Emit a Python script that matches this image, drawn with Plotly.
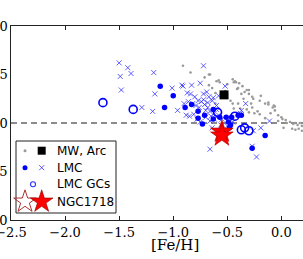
import plotly.graph_objects as go

# ---- data ----
mw_feh = [-0.91, -0.84, -0.66, -0.60, -0.57, -0.45, -0.43, -0.39, -0.36, -0.32, -0.30, -0.27,
          -0.20, -0.15, -0.12, -0.08, -0.06, -0.03, 0.01, 0.04, 0.08, 0.11, 0.15, 0.19,
          -0.42, -0.40, -0.37, -0.30, -0.26, -0.19, -0.45, -0.38, -0.32, -0.28, -0.12, -0.06,
          -0.27, -0.22, -0.07, 0.00, -0.03, 0.05, 0.13, 0.17, 0.10, 0.13, 0.16, 0.19, -0.15,
          -0.20, -0.71, -0.67, -0.64, -0.61, -0.58, -0.44, -0.41, -0.47, -0.40, -0.44, -0.30,
          -0.61, -0.67, -0.35, -0.25, -0.10, 0.02, -0.52, -0.50, -0.34]
mw_x = [0.59, 0.52, 0.50, 0.43, 0.42, 0.45, 0.43, 0.41, 0.38, 0.34, 0.34, 0.27,
        0.23, 0.20, 0.19, 0.16, 0.13, 0.08, 0.04, 0.03, 0.01, -0.01, -0.02, -0.03,
        0.42, 0.36, 0.30, 0.30, 0.25, 0.28, 0.20, 0.15, 0.14, 0.20, 0.21, 0.17,
        0.16, 0.12, 0.18, 0.06, 0.02, 0.00, 0.00, 0.00, -0.06, -0.07, -0.06, -0.08, 0.05,
        0.09, 0.47, 0.50, 0.36, 0.31, 0.44, 0.42, 0.35, 0.23, 0.20, 0.15, 0.11,
        0.20, 0.39, 0.25, 0.10, 0.10, -0.05, 0.33, 0.40, 0.32]

mw_arc_feh = [-0.53]
mw_arc_x = [0.29]

lmc_dot_feh = [-1.12, -1.00, -1.08, -0.89, -0.83, -0.77, -0.77, -0.71, -0.73, -0.63, -0.57,
               -0.51, -0.46, -0.49, -0.47, -0.40, -0.37, -0.63, -0.15, -0.27, -0.48]
lmc_dot_x = [0.38, 0.28, 0.16, 0.16, 0.19, 0.12, 0.05, 0.08, -0.01, 0.14, 0.06,
             0.06, 0.06, 0.01, -0.02, 0.08, 0.08, 0.04, -0.13, -0.26, -0.05]

lmc_x_feh = [-1.50, -1.42, -1.49, -1.39, -1.48, -1.18, -1.17, -1.29, -1.19, -1.01, -0.72,
             -0.91, -0.83, -0.75, -0.72, -0.52, -0.87, -0.84, -0.80, -0.67, -0.33, -0.88,
             -0.38, -0.11, -0.19, -0.64, -0.92, -0.69, -0.64, -0.58, -0.86, -0.82, -0.79,
             -0.76, -0.74, -0.71, -0.68, -0.66, -0.62, -0.60, -0.58, -0.55, -0.85, -0.81,
             -0.78, -0.75, -0.70, -0.66, -0.62, -0.56, -0.50, -0.45, -0.90, -0.96, -0.66,
             -0.27, -0.23, -0.26, -0.37, -0.63, -0.72, -0.68, -0.70, -0.77, -0.60, -0.65]
lmc_x_x = [0.62, 0.57, 0.48, 0.51, 0.34, 0.52, 0.30, 0.16, 0.12, 0.36, 0.59,
           0.38, 0.39, 0.41, 0.30, 0.38, 0.31, 0.30, 0.27, 0.27, 0.20, 0.08,
           0.10, 0.02, -0.05, -0.05, 0.39, 0.32, 0.23, 0.28, 0.22, 0.20, 0.18,
           0.16, 0.22, 0.19, 0.16, 0.12, 0.10, 0.18, 0.08, 0.04, 0.07, 0.09,
           0.04, 0.01, 0.06, 0.02, 0.04, -0.02, -0.03, 0.01, 0.20, 0.13, -0.27,
           -0.24, -0.35, -0.08, 0.13, 0.26, 0.24, 0.21, 0.13, 0.23, 0.14, 0.07]

gc_feh = [-1.65, -1.37, -0.59, -0.43, -0.37, -0.34, -0.30]
gc_x = [0.21, 0.14, 0.11, 0.07, -0.07, -0.05, -0.08]

ngc_feh = [-0.55, -0.55]
ngc_x = [-0.09, -0.13]

legend_labels = ["MW, Arc", "LMC", "LMC GCs", "NGC1718"]

x_range = [-2.5, 0.2]
y_range = [-1.0, 1.0]
x_ticks = [-2.5, -2.0, -1.5, -1.0, -0.5, 0.0]
y_ticks = [-1.0, -0.5, 0.0, 0.5, 1.0]


def fmt(v):
    return ("\u2212" if v < 0 else "") + f"{abs(v):.1f}"


fig = go.Figure()

fig.add_trace(go.Scatter(x=mw_feh, y=mw_x, mode="markers",
                         marker=dict(size=2.6, color="#9a9a9a"), showlegend=False))
fig.add_trace(go.Scatter(x=lmc_x_feh, y=lmc_x_x, mode="markers",
                         marker=dict(symbol="x-thin-open", size=5, color="rgba(40,40,255,0.75)",
                                     line=dict(width=1, color="rgba(40,40,255,0.75)")),
                         showlegend=False))
fig.add_trace(go.Scatter(x=lmc_dot_feh, y=lmc_dot_x, mode="markers",
                         marker=dict(size=5.5, color="#0000ff"), showlegend=False))
fig.add_trace(go.Scatter(x=gc_feh, y=gc_x, mode="markers",
                         marker=dict(symbol="circle-open", size=8, color="#0000ff",
                                     line=dict(width=1.6, color="#0000ff")),
                         showlegend=False))
fig.add_trace(go.Scatter(x=mw_arc_feh, y=mw_arc_x, mode="markers",
                         marker=dict(symbol="square", size=9, color="black"), showlegend=False))
fig.add_trace(go.Scatter(x=ngc_feh, y=ngc_x, mode="markers",
                         marker=dict(symbol="star", size=17, color="#ff0000",
                                     line=dict(width=0.6, color="#aa0000")),
                         showlegend=False))

# ---- manual legend (two symbols per entry) on an overlay paper-like axis ----
W, H = 303, 259
ml, mr, mt, mb = 11, 0, 26, 39
pw, ph = W - ml - mr, H - mt - mb


def px(x):
    return (x - ml) / pw


def py(y):
    return 1 - (y - mt) / ph


rows = [150.7, 167.7, 184.3, 201.7]
c1, c2, cm = px(25), px(41.7), px(33)
leg = dict(xaxis="x2", yaxis="y2", mode="markers", showlegend=False, hoverinfo="skip")
fig.add_trace(go.Scatter(x=[c1], y=[py(rows[0])], marker=dict(size=3, color="#9a9a9a"), **leg))
fig.add_trace(go.Scatter(x=[c2], y=[py(rows[0])], marker=dict(symbol="square", size=8, color="black"), **leg))
fig.add_trace(go.Scatter(x=[c1], y=[py(rows[1])], marker=dict(size=5, color="#0000ff"), **leg))
fig.add_trace(go.Scatter(x=[c2], y=[py(rows[1])],
                         marker=dict(symbol="x-thin-open", size=5, color="rgba(40,40,255,0.75)",
                                     line=dict(width=1, color="rgba(40,40,255,0.75)")), **leg))
fig.add_trace(go.Scatter(x=[cm], y=[py(rows[2])],
                         marker=dict(symbol="circle-open", size=5, color="#3030ff",
                                     line=dict(width=1.1, color="#3030ff")), **leg))
fig.add_trace(go.Scatter(x=[c1], y=[py(rows[3])],
                         marker=dict(symbol="star-open", size=17, color="#b03030",
                                     line=dict(width=1, color="#b03030")), **leg))
fig.add_trace(go.Scatter(x=[c2], y=[py(rows[3])],
                         marker=dict(symbol="star", size=17, color="#ff0000",
                                     line=dict(width=0.6, color="#880000")), **leg))

annotations = []
for lab, r in zip(legend_labels, rows):
    annotations.append(dict(x=px(55), y=py(r), xref="paper", yref="paper", text=lab,
                            showarrow=False, xanchor="left", yanchor="middle",
                            font=dict(family="DejaVu Sans", size=12, color="black")))
annotations.append(dict(x=px(175), y=py(245), xref="paper", yref="paper", text="[Fe/H]",
                        showarrow=False, xanchor="center", yanchor="middle",
                        font=dict(family="DejaVu Serif", size=15, color="black")))
# y tick labels (placed just left of the axis, partly off the page as in the reference)
for v in y_ticks:
    annotations.append(dict(x=px(9.5), y=v, xref="paper", yref="y", text=fmt(v),
                            showarrow=False, xanchor="right", yanchor="middle",
                            font=dict(family="DejaVu Serif", size=13, color="black")))

shapes = [
    dict(type="line", xref="paper", yref="y", x0=0, x1=1, y0=0, y1=0,
         line=dict(color="#666666", width=1.5, dash="6px,4px"), layer="below"),
    dict(type="rect", xref="paper", yref="paper", x0=px(16), x1=px(116), y0=py(213), y1=py(141),
         line=dict(color="#222222", width=1), fillcolor="white", layer="below"),
]

fig.update_layout(
    width=W, height=H,
    margin=dict(l=ml, r=mr, t=mt, b=mb, autoexpand=False),
    paper_bgcolor="white", plot_bgcolor="white",
    showlegend=False,
    annotations=annotations, shapes=shapes,
    xaxis=dict(range=x_range, tickvals=x_ticks, automargin=False, ticklabeloverflow="allow",
               ticktext=[fmt(v) for v in x_ticks],
               showgrid=False, zeroline=False, showline=True, linecolor="#222222", linewidth=1,
               mirror="ticks", ticks="inside", ticklen=4, tickcolor="#222222",
               tickfont=dict(family="DejaVu Serif", size=13, color="black")),
    yaxis=dict(range=y_range, tickvals=y_ticks, automargin=False, showticklabels=False,
               showgrid=False, zeroline=False, showline=True, linecolor="#222222", linewidth=1,
               ticks=""),
    xaxis2=dict(range=[0, 1], overlaying="x", visible=False, showgrid=False, zeroline=False,
                automargin=False),
    yaxis2=dict(range=[0, 1], overlaying="y", visible=False, showgrid=False, zeroline=False,
                automargin=False),
)

fig.write_html("out.html", config={"displayModeBar": False},
               post_script="document.body.style.margin='0px';document.body.style.overflow='hidden';")
